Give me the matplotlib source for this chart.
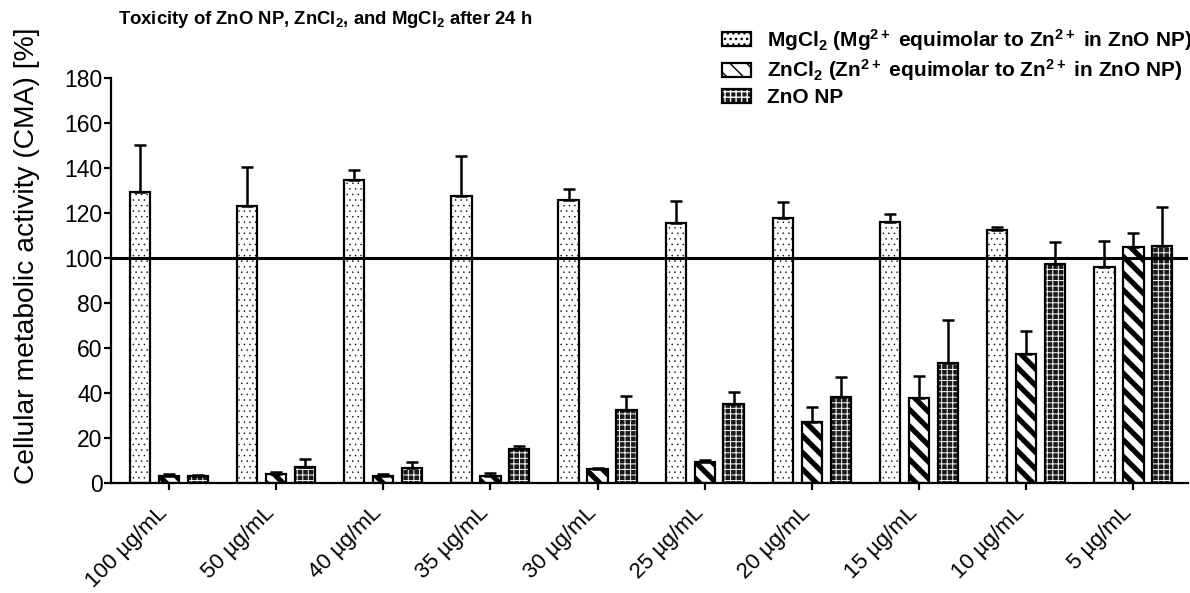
import numpy as np
import matplotlib
matplotlib.use("Agg")
import matplotlib.pyplot as plt
from matplotlib.patches import Patch
from matplotlib.legend_handler import HandlerTuple
from matplotlib.transforms import ScaledTranslation

plt.rcParams['font.family'] = ['Liberation Sans', 'DejaVu Sans']
plt.rcParams['mathtext.fontset'] = 'custom'
plt.rcParams['mathtext.rm'] = 'Liberation Sans:bold'
plt.rcParams['mathtext.it'] = 'Liberation Sans:bold'
plt.rcParams['mathtext.bf'] = 'Liberation Sans:bold'

# concentrations (x categories)
conc = ["100 µg/mL", "50 µg/mL", "40 µg/mL", "35 µg/mL", "30 µg/mL",
        "25 µg/mL", "20 µg/mL", "15 µg/mL", "10 µg/mL", "5 µg/mL"]

# mean values and top of error bar (mean + SD)
mgcl2 = [129.5, 123.3, 134.7, 127.6, 125.7, 115.4, 117.6, 116.0, 112.4, 96.0]
mgcl2_top = [150.0, 140.6, 139.1, 145.2, 130.5, 125.3, 125.0, 119.6, 113.8, 107.6]
zncl2 = [3.2, 4.0, 3.0, 3.2, 6.1, 9.3, 27.3, 37.7, 57.3, 105.0]
zncl2_top = [3.8, 5.0, 4.0, 4.3, 6.8, 10.1, 33.6, 47.5, 67.6, 111.3]
zno = [3.0, 7.3, 6.5, 14.9, 32.3, 35.0, 38.4, 53.3, 97.3, 105.5]
zno_top = [3.6, 10.7, 9.5, 16.5, 38.8, 40.4, 47.3, 72.4, 107.0, 122.8]

lab_mg = r"MgCl$_2$ (Mg$^{2+}$ equimolar to Zn$^{2+}$ in ZnO NP)"
lab_zn = r"ZnCl$_2$ (Zn$^{2+}$ equimolar to Zn$^{2+}$ in ZnO NP)"
lab_zno = "ZnO NP"

fig = plt.figure(figsize=(11.9, 5.93), dpi=100)
ax = fig.add_axes([111 / 1190, 0.1855, 1077 / 1190, 0.683])

x = np.arange(len(conc))
w = 0.19
off = 0.27
LW = 1.6

def errs(vals, tops):
    vals = np.array(vals)
    return [np.zeros_like(vals), np.array(tops) - vals]

# MgCl2: white with fine dots
b_mg = ax.bar(x - off, mgcl2, w, facecolor='white', edgecolor='black', linewidth=LW,
              hatch='...', zorder=2)
for p in b_mg:
    p.set_hatch_linewidth(0.3)

# ZnCl2: thick diagonal stripes
b_zn = ax.bar(x, zncl2, w, facecolor='white', edgecolor='black', linewidth=LW,
              hatch='\\\\', zorder=2)
for p in b_zn:
    p.set_hatch_linewidth(3.8)

# ZnO NP: dark with white specks (hatch layer + outline)
b_zno_fill = ax.bar(x + off, zno, w, facecolor='#1a1a1a', edgecolor='white', linewidth=0,
                    hatch='+++', zorder=2)
for p in b_zno_fill:
    p.set_hatch_linewidth(0.7)
b_zno = ax.bar(x + off, zno, w, fill=False, edgecolor='black', linewidth=LW, zorder=2.1)

for xs, v, t in [(x - off, mgcl2, mgcl2_top), (x, zncl2, zncl2_top), (x + off, zno, zno_top)]:
    ax.errorbar(xs, v, yerr=errs(v, t), fmt='none', ecolor='black', elinewidth=1.8,
                capsize=4, capthick=1.8, zorder=2.5)

ax.axhline(100, color='black', linewidth=2.2, zorder=3)

ax.set_xlim(-0.54, 9.51)
ax.set_ylim(0, 180)
ax.set_yticks(np.arange(0, 181, 20))
ax.set_xticks(x)
ax.set_xticklabels(conc, rotation=45, ha='right', va='top', rotation_mode='anchor', fontsize=16)
ax.tick_params(axis='x', length=5, width=LW, pad=9)
ax.tick_params(axis='y', length=5, width=LW, labelsize=16.5, pad=1)
shift = ScaledTranslation(-0.12, 0, fig.dpi_scale_trans)
for lbl in ax.get_xticklabels():
    lbl.set_transform(lbl.get_transform() + shift)
for s in ['top', 'right']:
    ax.spines[s].set_visible(False)
for s in ['left', 'bottom']:
    ax.spines[s].set_linewidth(LW)

ax.set_ylabel("Cellular metabolic activity (CMA) [%]", fontsize=20.3)
ax.yaxis.set_label_coords(-0.066, 0.56)

fig.text(118 / 1190, 1 - 19 / 593, r"Toxicity of ZnO NP, ZnCl$_2$, and MgCl$_2$ after 24 h",
         fontsize=13.3, fontweight='bold', ha='left', va='center')

h_mg = Patch(facecolor='white', edgecolor='black', linewidth=LW, hatch='...')
h_mg.set_hatch_linewidth(0.3)
h_zn = Patch(facecolor='white', edgecolor='black', linewidth=LW, hatch='\\\\')
h_zn.set_hatch_linewidth(3.8)
h_zno_f = Patch(facecolor='#1a1a1a', edgecolor='white', linewidth=0, hatch='+++')
h_zno_f.set_hatch_linewidth(0.7)
h_zno_o = Patch(fill=False, edgecolor='black', linewidth=LW)

fig.legend([h_mg, h_zn, (h_zno_f, h_zno_o)], [lab_mg, lab_zn, lab_zno],
           handler_map={tuple: HandlerTuple(ndivide=1)},
           loc='upper left', bbox_to_anchor=(722 / 1190, 1 - 27 / 593),
           frameon=False, borderpad=0, borderaxespad=0,
           handlelength=1.4, handleheight=0.67, handletextpad=0.75,
           labelspacing=0.22, prop={'weight': 'bold', 'size': 15})

fig.savefig("out.png", dpi=100)
